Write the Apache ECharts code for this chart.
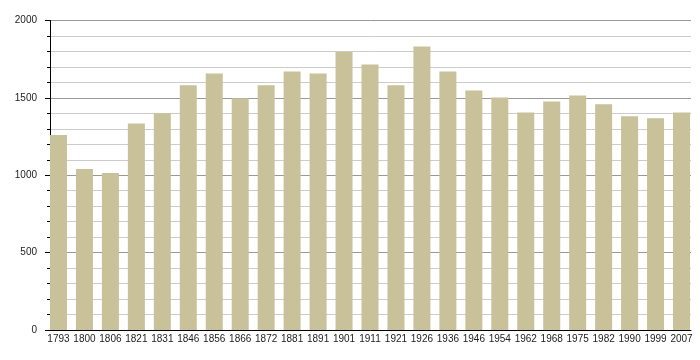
<!DOCTYPE html>
<html>
<head>
<meta charset="utf-8">
<script src="https://cdn.jsdelivr.net/npm/echarts@6/dist/echarts.min.js"></script>
<style>html,body{margin:0;padding:0;background:#fff}#c{width:700px;height:360px}</style>
</head>
<body>
<div id="c"></div>
<script>
const years = ['1793','1800','1806','1821','1831','1846','1856','1866','1872','1881','1891','1901','1911','1921','1926','1936','1946','1954','1962','1968','1975','1982','1990','1999','2007'];
const population = [1260,1040,1015,1335,1400,1581,1658,1497,1581,1671,1658,1796,1716,1581,1832,1671,1548,1503,1406,1477,1516,1458,1381,1368,1406];
const yTicks = [0,500,1000,1500,2000];

const chart = echarts.init(document.getElementById('c'), null, {renderer:'canvas'});
const font = {fontFamily:'Liberation Sans, Arial, sans-serif', fontSize:10, color:'#222'};
chart.setOption({
  animation:false,
  grid:[
    {left:50, right:9, top:20.5, bottom:30},
    {left:45.5, right:5.5, top:20.5, bottom:30}
  ],
  xAxis:[
    {gridIndex:0, type:'category', data:years, axisLine:{show:true, lineStyle:{color:'#000', width:1}}, axisTick:{show:false}, axisLabel:{show:false}, splitLine:{show:false}},
    {gridIndex:1, type:'category', data:years, axisLine:{show:false}, axisTick:{show:false}, axisLabel:Object.assign({margin:4, interval:0}, font)}
  ],
  yAxis:[
    {gridIndex:0, type:'value', min:yTicks[0], max:yTicks[yTicks.length-1], interval:500,
     axisLine:{show:true, lineStyle:{color:'#000', width:1}},
     axisTick:{show:true, length:5, lineStyle:{color:'#000'}},
     minorTick:{show:true, splitNumber:5, length:3, lineStyle:{color:'#000'}},
     axisLabel:Object.assign({margin:13, formatter:v => String(v)}, font),
     splitLine:{show:true, lineStyle:{color:'#999', width:1}},
     minorSplitLine:{show:true, lineStyle:{color:'#ccc', width:1}}},
    {gridIndex:1, type:'value', min:0, max:2000, show:false, splitLine:{show:false}}
  ],
  series:[{
    type:'bar', xAxisIndex:1, yAxisIndex:1, data:population, barWidth:17,
    itemStyle:{color:'#c9c199'}, z:5
  }]
});
</script>
</body>
</html>
